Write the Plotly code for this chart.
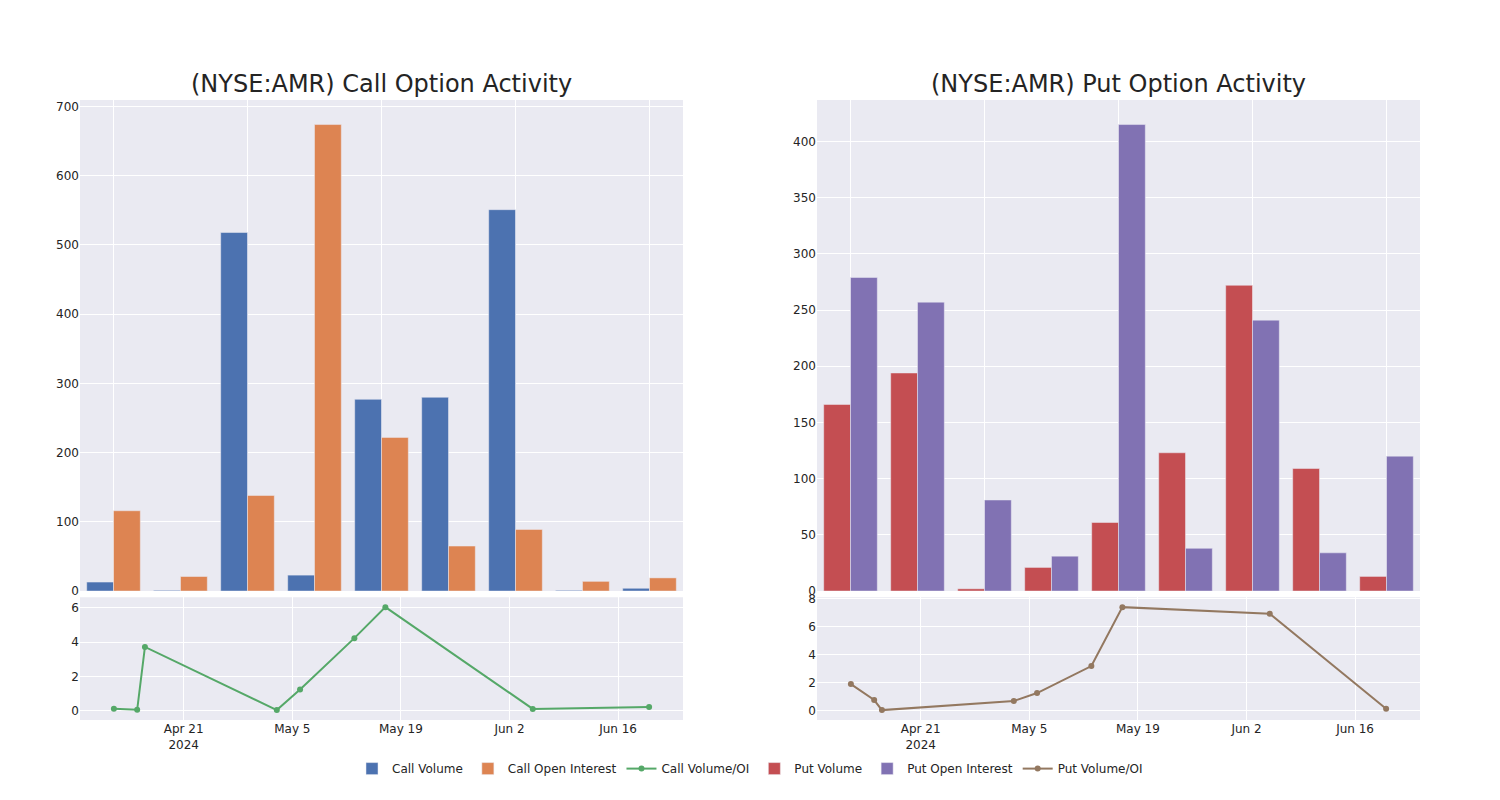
import plotly.graph_objects as go
from plotly.subplots import make_subplots

# ---- data ----
bar_slots = list(range(9))
call_volume = [13, 1, 518, 23, 277, 280, 551, 1, 4]
call_open_interest = [116, 21, 138, 674, 222, 65, 89, 14, 19]
put_volume = [166, 194, 2, 21, 61, 123, 272, 109, 13]
put_open_interest = [279, 257, 81, 31, 415, 38, 241, 34, 120]

ratio_dates = ["2024-04-12", "2024-04-15", "2024-04-16", "2024-05-03", "2024-05-06",
               "2024-05-13", "2024-05-17", "2024-06-05", "2024-06-20"]
call_vol_oi = [0.11, 0.05, 3.72, 0.03, 1.23, 4.23, 6.04, 0.1, 0.21]
put_vol_oi = [1.88, 0.74, 0.02, 0.67, 1.24, 3.17, 7.38, 6.9, 0.12]

titles = ["(NYSE:AMR) Call Option Activity", "(NYSE:AMR) Put Option Activity"]

fig = make_subplots(
    rows=2, cols=2,
    row_heights=[0.8, 0.2],
    vertical_spacing=0.01,
    horizontal_spacing=0.1,
    subplot_titles=[titles[0], titles[1], "", ""],
)

fig.add_trace(go.Bar(x=bar_slots, y=call_volume, name="Call Volume",
                     marker_color="#4C72B0"), row=1, col=1)
fig.add_trace(go.Bar(x=bar_slots, y=call_open_interest, name="Call Open Interest",
                     marker_color="#DD8452"), row=1, col=1)
fig.add_trace(go.Scatter(x=ratio_dates, y=call_vol_oi, name="Call Volume/OI",
                         mode="lines+markers", line=dict(color="#55A868", width=2),
                         marker=dict(size=6)), row=2, col=1)
fig.add_trace(go.Bar(x=bar_slots, y=put_volume, name="Put Volume",
                     marker_color="#C44E52"), row=1, col=2)
fig.add_trace(go.Bar(x=bar_slots, y=put_open_interest, name="Put Open Interest",
                     marker_color="#8172B3"), row=1, col=2)
fig.add_trace(go.Scatter(x=ratio_dates, y=put_vol_oi, name="Put Volume/OI",
                         mode="lines+markers", line=dict(color="#937860", width=2),
                         marker=dict(size=6)), row=2, col=2)

fig.update_layout(
    template="seaborn",
    font=dict(family="DejaVu Sans"),
    width=1500, height=800,
    margin=dict(l=80, r=80, t=100, b=80),
    barmode="group",
    legend=dict(orientation="h", x=0.5, xanchor="center", y=-0.055, yanchor="top"),
)
for ann in fig.layout.annotations:
    ann.font = dict(size=24, family="DejaVu Sans")

fig.update_xaxes(showticklabels=False, tick0=0, dtick=2, row=1, col=1)
fig.update_xaxes(showticklabels=False, tick0=0, dtick=2, row=1, col=2)

fig.write_html("out.html")
